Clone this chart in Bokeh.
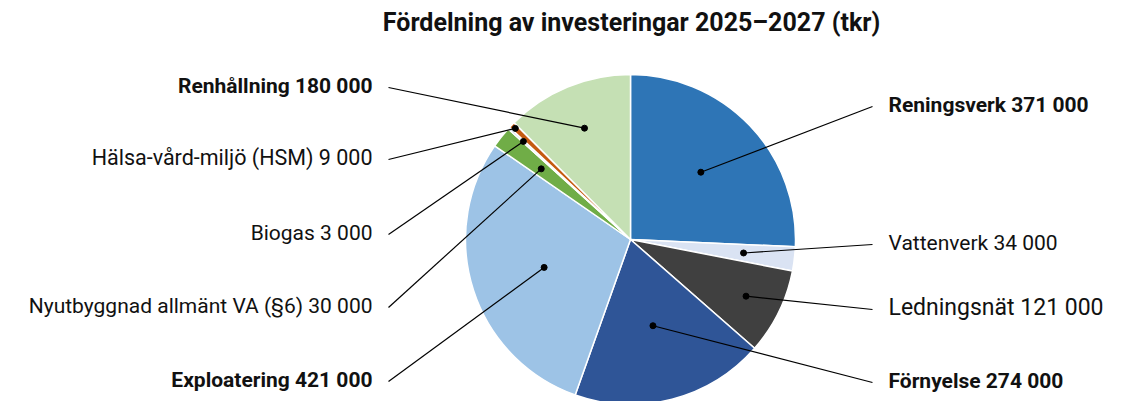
import numpy as np
from bokeh.plotting import figure
from bokeh.models import Range1d, ColumnDataSource
from bokeh.embed import file_html
from bokeh.resources import INLINE
from bokeh.core.properties import value

# ---------------- data ----------------
title_text = "Fördelning av investeringar 2025–2027 (tkr)"
categories = ["Reningsverk", "Vattenverk", "Ledningsnät", "Förnyelse", "Exploatering",
              "Nyutbyggnad allmänt VA (§6)", "Biogas", "Hälsa-vård-miljö (HSM)", "Renhållning"]
values = [371000, 34000, 121000, 274000, 421000, 30000, 3000, 9000, 180000]

# ---------------- styles / layout ----------------
colors = ["#2E75B6", "#DAE3F3", "#404040", "#2F5597", "#9DC3E6",
          "#70AD47", "#BDD7EE", "#C55A11", "#C5E0B4"]
bold = [True, False, False, True, True, False, False, False, True]
font_px = [21, 21, 23, 21, 21, 21, 21, 21.5, 21]
side = ["right", "right", "right", "right", "left", "left", "left", "left", "left"]
label_screen_y = [104, 242, 307, 380, 379, 305, 232, 157, 85]
dot_frac = [0.59, 0.69, 0.78, 0.54, 0.55, 0.69, 0.88, 0.97, 0.73]

W, H = 1128, 401
cx, cy, R = 630, 239, 165          # pie centre/radius in page pixels
right_text_x, right_line_x = 888, 872
left_text_x, left_line_x = 372, 388
FONT = "Roboto"

def Y(sy):
    return -sy

p = figure(width=W, height=H, output_backend="svg", toolbar_location=None,
           x_range=Range1d(0, W), y_range=Range1d(Y(H), Y(0)),
           min_border=0, outline_line_color=None)
p.axis.visible = False
p.grid.visible = False
p.background_fill_color = "white"
p.border_fill_color = "white"

vals = np.array(values, dtype=float)
total = vals.sum()
cum = np.concatenate([[0], np.cumsum(vals)]) / total * 2 * np.pi
start = np.pi / 2 - cum[:-1]
end = np.pi / 2 - cum[1:]
mid = (cum[:-1] + cum[1:]) / 2

src = ColumnDataSource(dict(start=start, end=end, color=colors))
p.wedge(x=cx, y=Y(cy), radius=R, start_angle="start", end_angle="end",
        direction="clock", fill_color="color", line_color="white", line_width=1.5,
        source=src)

# dots and leader lines
dx = cx + np.array(dot_frac) * R * np.sin(mid)
dy = Y(cy) + np.array(dot_frac) * R * np.cos(mid)
xs, ys = [], []
for i in range(len(values)):
    lx = right_line_x if side[i] == "right" else left_line_x
    xs.append([lx, dx[i]])
    ys.append([Y(label_screen_y[i] + 2), dy[i]])
p.multi_line(xs=xs, ys=ys, line_color="black", line_width=1.2)
p.scatter(x=dx, y=dy, size=6, fill_color="black", line_color="black")

def fmt(v):
    return f"{v:,}".replace(",", " ")

for i, c in enumerate(categories):
    tx = right_text_x if side[i] == "right" else left_text_x
    p.text(x=[tx], y=[Y(label_screen_y[i])], text=[f"{c} {fmt(values[i])}"],
           text_font=value(FONT), text_font_size=f"{font_px[i]}px",
           text_font_style="bold" if bold[i] else "normal",
           text_align="left" if side[i] == "right" else "right",
           text_baseline="middle", text_color="#111111")

p.text(x=[631], y=[Y(22)], text=[title_text], text_font=value(FONT),
       text_font_size="25px", text_font_style="bold", text_align="center",
       text_baseline="middle", text_color="#111111")

open("out.html", "w").write(file_html(p, INLINE))
